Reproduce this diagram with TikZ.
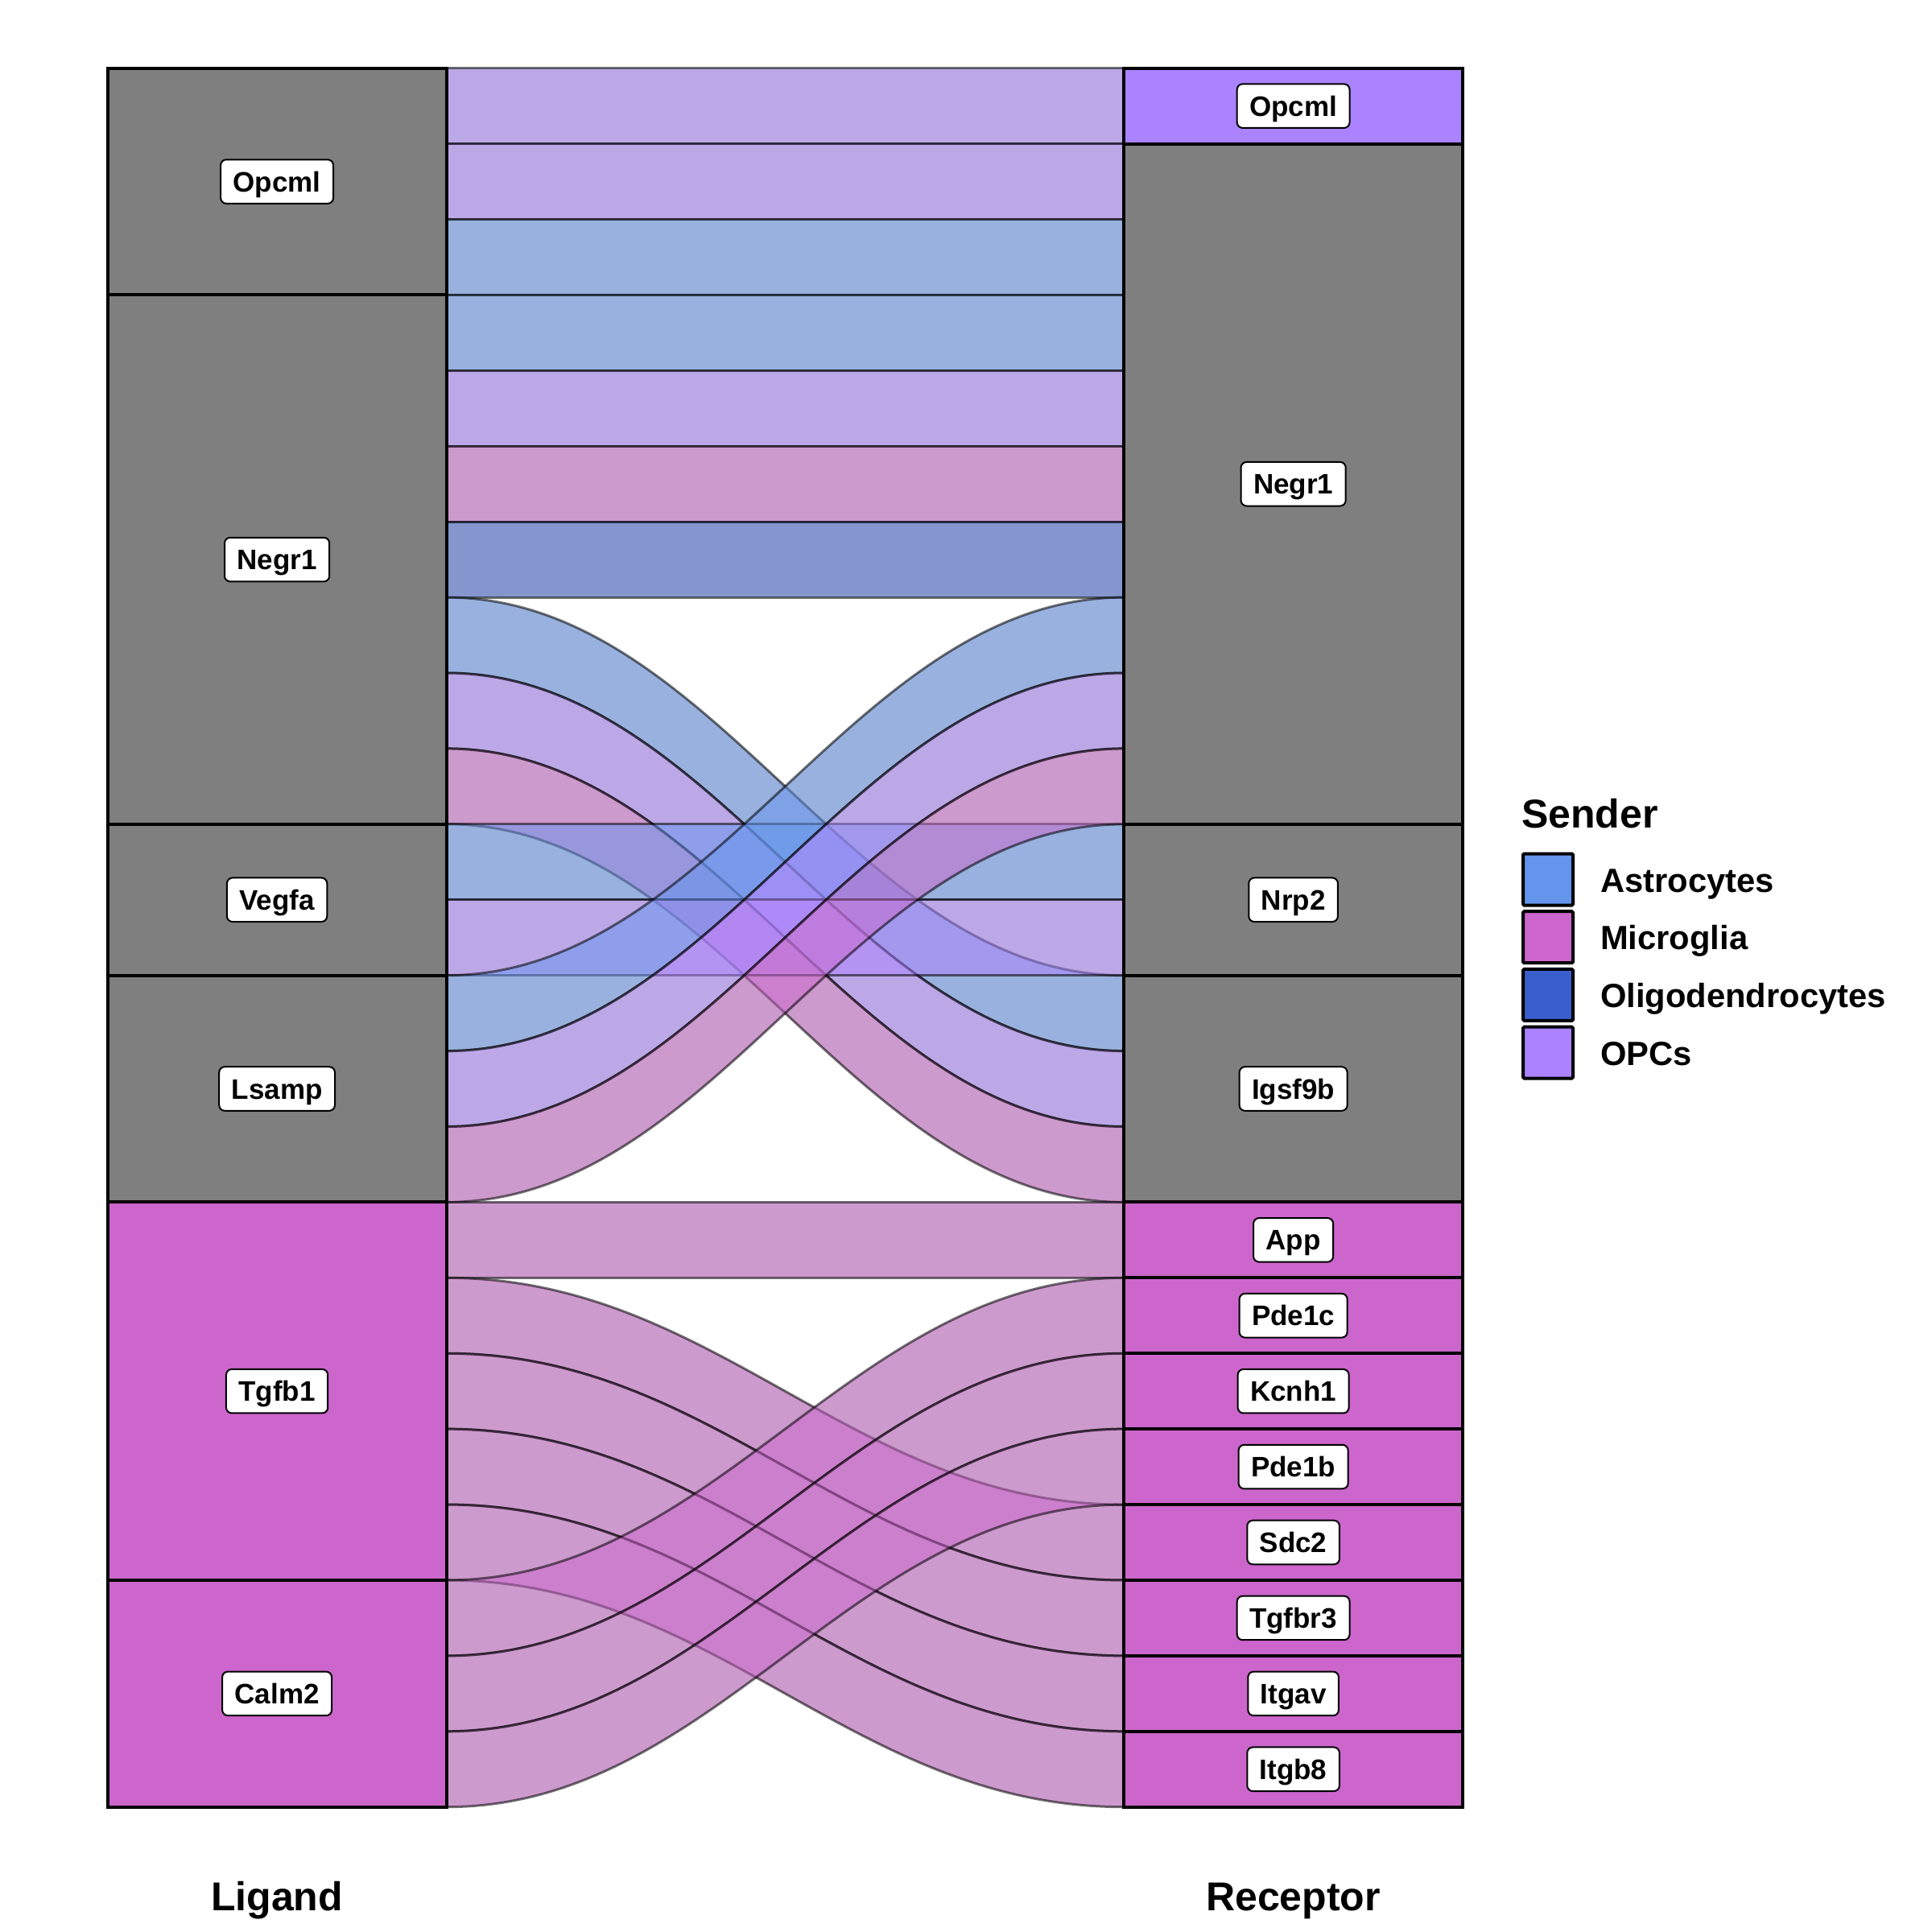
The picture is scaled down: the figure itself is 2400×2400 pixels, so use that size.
\documentclass[tikz,border=0pt]{standalone}
\usepackage{fontspec}
\setmainfont{Liberation Sans}
\usetikzlibrary{calc}
\definecolor{ast}{RGB}{100,149,237}
\definecolor{mic}{RGB}{204,102,204}
\definecolor{oli}{RGB}{58,95,205}
\definecolor{opc}{RGB}{171,130,255}
\definecolor{strgray}{RGB}{127,127,127}
\definecolor{undergray}{RGB}{207,207,207}
\newcommand\flowshape[4]{(L#1) .. controls ($(L#1)+(\cw,0)$) and ($(R#3)+(-\cw,0)$) .. (R#3) -- (R#4) .. controls ($(R#4)+(-\cw,0)$) and ($(L#2)+(\cw,0)$) .. (L#2) -- cycle}
\newcommand\flowbase[4]{\fill[undergray] \flowshape{#1}{#2}{#3}{#4};}
\newcommand\flowtop[5]{\filldraw[flowsty, fill=#5] \flowshape{#1}{#2}{#3}{#4};}
\begin{document}
\begin{tikzpicture}[x=1pt,y=-1pt,
  stratum/.style={draw=black, line width=4pt, inner sep=0pt, minimum width=420.8pt},
  flowsty/.style={fill opacity=0.5, draw=black, draw opacity=0.55, line width=3pt},
  lab/.style={fill=white, draw=black, line width=2pt, rounded corners=7pt,
    font=\fontsize{35}{40}\selectfont\bfseries, text height=25pt, text depth=0pt,
    inner xsep=15.5pt, inner ysep=14.8pt},
  axislab/.style={font=\fontsize{50}{60}\selectfont\bfseries, inner sep=0pt, anchor=base},
  legtitle/.style={font=\fontsize{50}{60}\selectfont\bfseries, inner sep=0pt, anchor=base west},
  legtext/.style={font=\fontsize{41.7}{50}\selectfont\bfseries, inner sep=0pt, anchor=base west},
  legkey/.style={draw=black, line width=4pt, minimum width=62pt, minimum height=64pt, inner sep=0pt, rounded corners=1.5pt}
]
\useasboundingbox (0,0) rectangle (2400,2400);
\pgfmathsetmacro\uu{2160/23}
\pgfmathsetmacro\cw{0.4*841.7}
\foreach \k in {0,...,23}{
  \coordinate (L\k) at (554.5, {84.7+\k*\uu});
  \coordinate (R\k) at (1396.2, {84.7+\k*\uu});
}
% underlay
\flowbase{0}{1}{0}{1}
\flowbase{1}{2}{1}{2}
\flowbase{2}{3}{2}{3}
\flowbase{3}{4}{3}{4}
\flowbase{4}{5}{4}{5}
\flowbase{5}{6}{5}{6}
\flowbase{6}{7}{6}{7}
\flowbase{7}{8}{12}{13}
\flowbase{8}{9}{13}{14}
\flowbase{9}{10}{14}{15}
\flowbase{10}{11}{10}{11}
\flowbase{11}{12}{11}{12}
\flowbase{12}{13}{7}{8}
\flowbase{13}{14}{8}{9}
\flowbase{14}{15}{9}{10}
\flowbase{15}{16}{15}{16}
\flowbase{16}{17}{19}{20}
\flowbase{17}{18}{20}{21}
\flowbase{18}{19}{21}{22}
\flowbase{19}{20}{22}{23}
\flowbase{20}{21}{16}{17}
\flowbase{21}{22}{17}{18}
\flowbase{22}{23}{18}{19}
% flows
\flowtop{0}{1}{0}{1}{opc}
\flowtop{1}{2}{1}{2}{opc}
\flowtop{2}{3}{2}{3}{ast}
\flowtop{3}{4}{3}{4}{ast}
\flowtop{4}{5}{4}{5}{opc}
\flowtop{5}{6}{5}{6}{mic}
\flowtop{6}{7}{6}{7}{oli}
\flowtop{7}{8}{12}{13}{ast}
\flowtop{8}{9}{13}{14}{opc}
\flowtop{9}{10}{14}{15}{mic}
\flowtop{10}{11}{10}{11}{ast}
\flowtop{11}{12}{11}{12}{opc}
\flowtop{12}{13}{7}{8}{ast}
\flowtop{13}{14}{8}{9}{opc}
\flowtop{14}{15}{9}{10}{mic}
\flowtop{15}{16}{15}{16}{mic}
\flowtop{16}{17}{19}{20}{mic}
\flowtop{17}{18}{20}{21}{mic}
\flowtop{18}{19}{21}{22}{mic}
\flowtop{19}{20}{22}{23}{mic}
\flowtop{20}{21}{16}{17}{mic}
\flowtop{21}{22}{17}{18}{mic}
\flowtop{22}{23}{18}{19}{mic}
% left strata
\node[stratum, fill=strgray, minimum height={3*\uu}] (sLOpcml) at (344.1, {84.7+1.5*\uu}) {};
\node[stratum, fill=strgray, minimum height={7*\uu}] (sLNegr1) at (344.1, {84.7+6.5*\uu}) {};
\node[stratum, fill=strgray, minimum height={2*\uu}] (sLVegfa) at (344.1, {84.7+11*\uu}) {};
\node[stratum, fill=strgray, minimum height={3*\uu}] (sLLsamp) at (344.1, {84.7+13.5*\uu}) {};
\node[stratum, fill=mic, minimum height={5*\uu}] (sLTgfb1) at (344.1, {84.7+17.5*\uu}) {};
\node[stratum, fill=mic, minimum height={3*\uu}] (sLCalm2) at (344.1, {84.7+21.5*\uu}) {};
% right strata
\node[stratum, fill=opc, minimum height={1*\uu}] (sROpcml) at (1606.6, {84.7+0.5*\uu}) {};
\node[stratum, fill=strgray, minimum height={9*\uu}] (sRNegr1) at (1606.6, {84.7+5.5*\uu}) {};
\node[stratum, fill=strgray, minimum height={2*\uu}] (sRNrp2) at (1606.6, {84.7+11*\uu}) {};
\node[stratum, fill=strgray, minimum height={3*\uu}] (sRIgsf9b) at (1606.6, {84.7+13.5*\uu}) {};
\node[stratum, fill=mic, minimum height={1*\uu}] (sRApp) at (1606.6, {84.7+15.5*\uu}) {};
\node[stratum, fill=mic, minimum height={1*\uu}] (sRPde1c) at (1606.6, {84.7+16.5*\uu}) {};
\node[stratum, fill=mic, minimum height={1*\uu}] (sRKcnh1) at (1606.6, {84.7+17.5*\uu}) {};
\node[stratum, fill=mic, minimum height={1*\uu}] (sRPde1b) at (1606.6, {84.7+18.5*\uu}) {};
\node[stratum, fill=mic, minimum height={1*\uu}] (sRSdc2) at (1606.6, {84.7+19.5*\uu}) {};
\node[stratum, fill=mic, minimum height={1*\uu}] (sRTgfbr3) at (1606.6, {84.7+20.5*\uu}) {};
\node[stratum, fill=mic, minimum height={1*\uu}] (sRItgav) at (1606.6, {84.7+21.5*\uu}) {};
\node[stratum, fill=mic, minimum height={1*\uu}] (sRItgb8) at (1606.6, {84.7+22.5*\uu}) {};
% labels
\node[lab] (tLOpcml) at (sLOpcml.center) {Opcml};
\node[lab] (tLNegr1) at (sLNegr1.center) {Negr1};
\node[lab] (tLVegfa) at (sLVegfa.center) {Vegfa};
\node[lab] (tLLsamp) at (sLLsamp.center) {Lsamp};
\node[lab] (tLTgfb1) at (sLTgfb1.center) {Tgfb1};
\node[lab] (tLCalm2) at (sLCalm2.center) {Calm2};
\node[lab] (tROpcml) at (sROpcml.center) {Opcml};
\node[lab] (tRNegr1) at (sRNegr1.center) {Negr1};
\node[lab] (tRNrp2) at (sRNrp2.center) {Nrp2};
\node[lab] (tRIgsf9b) at (sRIgsf9b.center) {Igsf9b};
\node[lab] (tRApp) at (sRApp.center) {App};
\node[lab] (tRPde1c) at (sRPde1c.center) {Pde1c};
\node[lab] (tRKcnh1) at (sRKcnh1.center) {Kcnh1};
\node[lab] (tRPde1b) at (sRPde1b.center) {Pde1b};
\node[lab] (tRSdc2) at (sRSdc2.center) {Sdc2};
\node[lab] (tRTgfbr3) at (sRTgfbr3.center) {Tgfbr3};
\node[lab] (tRItgav) at (sRItgav.center) {Itgav};
\node[lab] (tRItgb8) at (sRItgb8.center) {Itgb8};
% axis titles
\node[axislab] (axL) at (344.1, 2373) {Ligand};
\node[axislab] (axR) at (1606.6, 2373) {Receptor};
% legend
\node[legtitle] (legT) at (1890, 1028) {Sender};
\node[legkey, fill=ast] (k1) at (1923, 1092.5) {};
\node[legkey, fill=mic] (k2) at (1923, 1164.2) {};
\node[legkey, fill=oli] (k3) at (1923, 1235.9) {};
\node[legkey, fill=opc] (k4) at (1923, 1307.6) {};
\node[legtext] (lt1) at (1988, 1108) {Astrocytes};
\node[legtext] (lt2) at (1988, 1179.7) {Microglia};
\node[legtext] (lt3) at (1988, 1251.4) {Oligodendrocytes};
\node[legtext] (lt4) at (1988, 1323.1) {OPCs};
\end{tikzpicture}
\end{document}
